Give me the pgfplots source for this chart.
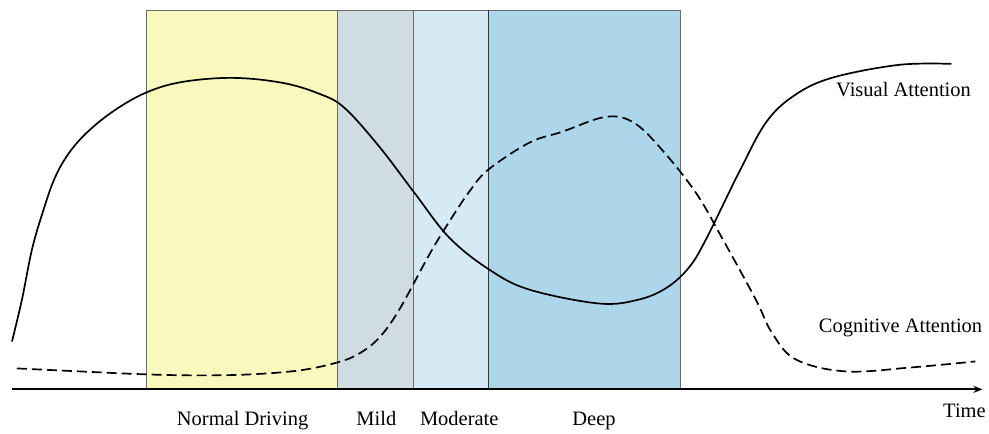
\documentclass[border=0pt]{standalone}
\usepackage{fontspec}
\setmainfont{Liberation Serif}
\usepackage{pgfplots}
\pgfplotsset{compat=1.18}
\usetikzlibrary{arrows.meta}
\definecolor{cyel}{HTML}{F9F9BE}
\definecolor{cmild}{HTML}{CFDCE2}
\definecolor{cmod}{HTML}{D6EAF6}
\definecolor{cdeep}{HTML}{AED6EA}
\definecolor{cedge}{HTML}{6A6A6A}
\newcommand{\lf}{\fontsize{20.5}{24}\selectfont}
\begin{document}
\begin{tikzpicture}
\begin{axis}[
  width=989pt, height=433pt, scale only axis,
  xmin=0, xmax=989, ymin=0, ymax=433, y dir=reverse,
  hide axis, clip=false,
]
% stage bands
\addplot[fill=cyel, draw=cedge, line width=0.9pt] coordinates {(147,389) (147,10) (338,10) (338,389)} --cycle;
\addplot[fill=cmild, draw=cedge, line width=0.9pt] coordinates {(338,389) (338,10) (414,10) (414,389)} --cycle;
\addplot[fill=cmod, draw=cedge, line width=0.9pt] coordinates {(414,389) (414,10) (489,10) (489,389)} --cycle;
\addplot[fill=cdeep, draw=cedge, line width=0.9pt] coordinates {(489,389) (489,10) (682,10) (682,389)} --cycle;
\addplot[black!80, line width=0.9pt] coordinates {(489,389) (489,10)};
% visual attention
\addplot[black, line width=1.7pt, smooth, tension=0.6] coordinates {
(12,342) (22,300) (32,250) (43,212) (55,178) (70,152) (90,130) (117,109) (148,92) (183,82)
(233,78) (283,83) (320,94) (345,108) (380,147) (415,193) (450,238) (490,270)
(530,290) (600,304) (640,300) (668,288) (690,268) (707,240) (740,173)
(767,123) (795,96) (833,78) (900,65) (953,64)};
% cognitive attention
\addplot[black, line width=1.7pt, dash pattern=on 10pt off 5pt, smooth, tension=0.6] coordinates {
(17,369) (80,372) (147,375) (200,376) (250,375) (300,371) (338,363) (360,354)
(380,338) (400,310) (430,255) (450,222) (470,192) (489,170) (530,143)
(563,132) (607,117) (635,123) (663,150) (697,193) (723,238)
(757,300) (773,333) (797,360) (847,372) (913,368) (977,362)};
% time axis
\addplot[black, line width=2pt, -{Stealth[length=9pt,width=7pt]}] coordinates {(12,390) (984,390)};
\node[anchor=base, font=\lf] at (axis cs:905,97) {Visual Attention};
\node[anchor=base, font=\lf] at (axis cs:902,333) {Cognitive Attention};
\node[anchor=base, font=\lf] at (axis cs:966,418) {Time};
\node[anchor=base, font=\lf] at (axis cs:243,426) {Normal Driving};
\node[anchor=base, font=\lf] at (axis cs:377,426) {Mild};
\node[anchor=base, font=\lf] at (axis cs:460,426) {Moderate};
\node[anchor=base, font=\lf] at (axis cs:595,426) {Deep};
\path (axis cs:0,0) rectangle (axis cs:989,433);
\end{axis}
\end{tikzpicture}
\end{document}
